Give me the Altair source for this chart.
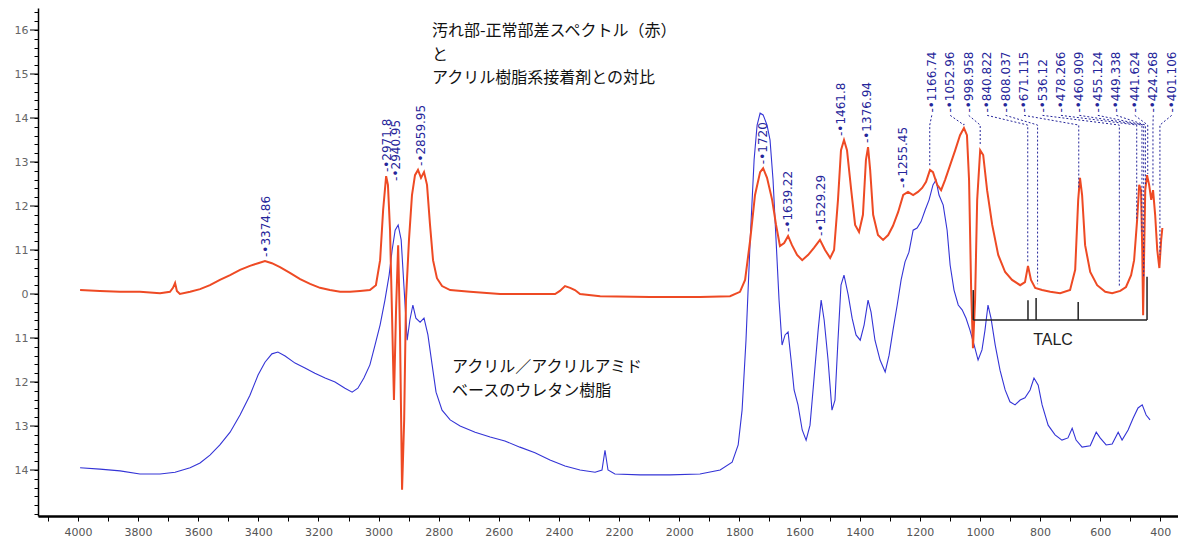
import altair as alt
import numpy as np
import pandas as pd

# ---------------- data ----------------
red_wn = [3993, 3927, 3860, 3794, 3727, 3694, 3684, 3677, 3671, 3661,
          3627, 3594, 3561, 3528, 3494, 3461, 3428, 3401, 3378, 3355,
          3328, 3295, 3261, 3228, 3195, 3162, 3128, 3095, 3062, 3029,
          3009, 2995, 2985, 2975, 2969, 2962, 2955, 2949, 2942, 2935,
          2929, 2922, 2915, 2909, 2899, 2889, 2879, 2869, 2859, 2849,
          2839, 2829, 2819, 2806, 2789, 2762, 2696, 2596, 2496, 2413,
          2397, 2380, 2363, 2347, 2330, 2263, 2097, 1931, 1831, 1798,
          1781, 1764, 1748, 1731, 1721, 1708, 1691, 1678, 1665, 1651,
          1638, 1625, 1608, 1591, 1571, 1552, 1532, 1515, 1498, 1485,
          1472, 1462, 1452, 1442, 1428, 1415, 1402, 1389, 1379, 1372,
          1365, 1355, 1339, 1322, 1305, 1289, 1272, 1255, 1239, 1222,
          1206, 1192, 1179, 1166, 1156, 1142, 1129, 1116, 1099, 1082,
          1066, 1053, 1043, 1036, 1029, 1023, 1016, 1009, 999, 989,
          976, 959, 939, 916, 893, 866, 850, 840, 830, 816,
          793, 766, 733, 700, 683, 673, 667, 660, 650, 633,
          610, 583, 560, 533, 514, 497, 487, 477, 470, 464,
          460, 457, 454, 450, 444, 437, 430, 424, 417, 410,
          403, 397, 393]
red_abs = [0.009, 0.007, 0.005, 0.005, 0.002, 0.005, 0.014, 0.025, 0.007, 0.000,
           0.005, 0.011, 0.020, 0.032, 0.043, 0.055, 0.064, 0.070, 0.075, 0.070,
           0.061, 0.048, 0.034, 0.023, 0.014, 0.009, 0.005, 0.005, 0.007, 0.009,
           0.020, 0.077, 0.191, 0.268, 0.248, 0.145, -0.059, -0.241, -0.036, 0.111,
           -0.082, -0.445, -0.286, -0.014, 0.123, 0.225, 0.270, 0.282, 0.264, 0.277,
           0.248, 0.157, 0.077, 0.036, 0.018, 0.009, 0.005, 0.000, 0.000, 0.000,
           0.007, 0.018, 0.014, 0.009, 0.000, -0.005, -0.007, -0.007, -0.005, 0.005,
           0.032, 0.123, 0.225, 0.277, 0.286, 0.264, 0.214, 0.157, 0.109, 0.116,
           0.132, 0.111, 0.089, 0.077, 0.089, 0.105, 0.123, 0.100, 0.082, 0.100,
           0.214, 0.327, 0.350, 0.327, 0.236, 0.157, 0.141, 0.180, 0.305, 0.334,
           0.282, 0.180, 0.134, 0.123, 0.134, 0.155, 0.186, 0.225, 0.232, 0.225,
           0.232, 0.241, 0.255, 0.282, 0.277, 0.248, 0.236, 0.259, 0.293, 0.327,
           0.361, 0.377, 0.361, 0.259, 0.009, -0.123, -0.014, 0.214, 0.327, 0.316,
           0.236, 0.157, 0.089, 0.050, 0.032, 0.020, 0.027, 0.064, 0.032, 0.014,
           0.009, 0.005, 0.002, 0.009, 0.055, 0.214, 0.264, 0.225, 0.111, 0.050,
           0.020, 0.005, 0.002, 0.007, 0.016, 0.043, 0.077, 0.168, 0.248, 0.236,
           0.100, -0.048, 0.077, 0.236, 0.270, 0.248, 0.214, 0.236, 0.180, 0.100,
           0.059, 0.123, 0.150]

blue_wn = [3993, 3927, 3860, 3794, 3727, 3677, 3627, 3594, 3561, 3528,
           3494, 3461, 3428, 3401, 3378, 3355, 3335, 3311, 3278, 3245,
           3212, 3178, 3145, 3112, 3088, 3069, 3049, 3029, 3012, 2995,
           2979, 2965, 2955, 2945, 2935, 2925, 2915, 2905, 2896, 2886,
           2876, 2862, 2849, 2836, 2822, 2809, 2789, 2762, 2729, 2679,
           2629, 2580, 2530, 2480, 2430, 2380, 2330, 2280, 2257, 2247,
           2237, 2214, 2130, 2031, 1931, 1864, 1824, 1804, 1791, 1778,
           1764, 1751, 1741, 1731, 1721, 1708, 1698, 1688, 1678, 1668,
           1658, 1648, 1638, 1628, 1618, 1605, 1591, 1578, 1565, 1552,
           1538, 1528, 1518, 1505, 1492, 1482, 1472, 1462, 1452, 1438,
           1425, 1412, 1398, 1385, 1372, 1362, 1349, 1332, 1315, 1302,
           1289, 1275, 1262, 1249, 1236, 1222, 1209, 1196, 1182, 1169,
           1156, 1146, 1136, 1122, 1109, 1099, 1086, 1072, 1059, 1046,
           1033, 1019, 1006, 993, 983, 973, 963, 949, 933, 916,
           900, 883, 866, 850, 833, 820, 806, 793, 773, 750,
           727, 707, 693, 680, 660, 633, 613, 600, 580, 560,
           540, 527, 507, 490, 474, 460, 447, 434]
blue_abs = [-0.395, -0.398, -0.402, -0.409, -0.409, -0.405, -0.395, -0.384, -0.366, -0.343,
            -0.314, -0.275, -0.230, -0.184, -0.155, -0.136, -0.132, -0.141, -0.157, -0.168,
            -0.180, -0.191, -0.200, -0.214, -0.223, -0.214, -0.191, -0.161, -0.116, -0.070,
            -0.014, 0.043, 0.100, 0.145, 0.157, 0.123, 0.009, -0.105, -0.059, -0.025,
            -0.055, -0.064, -0.055, -0.093, -0.161, -0.223, -0.264, -0.286, -0.300, -0.314,
            -0.325, -0.334, -0.348, -0.361, -0.377, -0.391, -0.400, -0.405, -0.400, -0.355,
            -0.400, -0.409, -0.411, -0.411, -0.409, -0.400, -0.382, -0.343, -0.264, -0.105,
            0.123, 0.305, 0.384, 0.411, 0.407, 0.384, 0.350, 0.259, 0.123, -0.014,
            -0.116, -0.093, -0.086, -0.150, -0.218, -0.252, -0.309, -0.332, -0.298, -0.195,
            -0.082, -0.014, -0.059, -0.150, -0.264, -0.241, -0.105, 0.020, 0.043, -0.002,
            -0.055, -0.093, -0.105, -0.070, -0.014, -0.041, -0.105, -0.150, -0.177, -0.139,
            -0.082, -0.025, 0.032, 0.073, 0.095, 0.145, 0.150, 0.164, 0.191, 0.214,
            0.248, 0.259, 0.225, 0.202, 0.145, 0.066, 0.009, -0.025, -0.036, -0.055,
            -0.082, -0.116, -0.150, -0.127, -0.082, -0.025, -0.055, -0.116, -0.173, -0.218,
            -0.245, -0.252, -0.241, -0.236, -0.218, -0.191, -0.207, -0.252, -0.298, -0.320,
            -0.332, -0.327, -0.305, -0.332, -0.348, -0.345, -0.314, -0.327, -0.343, -0.341,
            -0.314, -0.332, -0.309, -0.282, -0.259, -0.252, -0.275, -0.286]

left_peaks = [3374.86, 2971.8, 2940.95, 2859.95, 1720, 1639.22, 1529.29, 1461.8, 1376.94, 1255.45]
left_texts = ["3374.86", "2971.8", "2940.95", "2859.95", "1720", "1639.22",
              "1529.29", "1461.8", "1376.94", "1255.45"]
right_peaks = [1166.74, 1052.96, 998.958, 840.822, 808.037, 671.115, 536.12,
               478.266, 460.909, 455.124, 449.338, 441.624, 424.268, 401.106]
right_texts = ["1166.74", "1052.96", "998.958", "840.822", "808.037", "671.115", "536.12",
               "478.266", "460.909", "455.124", "449.338", "441.624", "424.268", "401.106"]

talc_wn = [1022, 840, 813, 673, 444]
talc_top = [0.009, -0.014, -0.009, -0.018, 0.039]

x_ticks = list(range(400, 4101, 100))
y_ticks = [round(-0.5 + 0.02 * i, 2) for i in range(58)]
y_major = [round(-0.4 + 0.1 * i, 1) for i in range(11)]

# ---------------- styling / layout ----------------
RED = "#ee4a24"
BLUE = "#3434d6"
NAVY = "#25259a"
X_DOMAIN = [4133, 341]
Y_DOMAIN = [-0.5045, 0.65]
LABEL_BASE = 0.41
ELBOW = 0.384
TALC_BASE = -0.059

xs = alt.Scale(domain=X_DOMAIN, nice=False, zero=False)
ys = alt.Scale(domain=Y_DOMAIN, nice=False, zero=False)

x_axis = alt.Axis(values=x_ticks, title=None, grid=False,
                  labelExpr="(datum.value % 200 == 0 && datum.value <= 4000) ? format(datum.value, 'd') : ''",
                  domainColor="black", domainWidth=2.5, tickColor="black", tickSize=5,
                  labelColor="#555555", labelFont="DejaVu Sans", labelFontSize=11,
                  labelPadding=5, labelOverlap=False, labelFlush=False)
y_axis = alt.Axis(values=y_ticks, title=None, grid=False,
                  labelExpr="(abs(round(datum.value*50)) % 5 == 0 && datum.value > -0.45) ? (round(datum.value*10) == 0 ? '0' : '1' + abs(round(datum.value*10))) : ''",
                  domainColor="black", domainWidth=1.5, tickColor="black", tickSize=4,
                  labelColor="#666666", labelFont="DejaVu Sans", labelFontSize=11,
                  labelPadding=6, labelOverlap=False, labelFlush=False)


def X(field="w"):
    return alt.X(f"{field}:Q", scale=xs, axis=x_axis)


def Y(field="v"):
    return alt.Y(f"{field}:Q", scale=ys, axis=y_axis)


red_df = pd.DataFrame({"w": red_wn, "v": red_abs, "i": range(len(red_wn))})
blue_df = pd.DataFrame({"w": blue_wn, "v": blue_abs, "i": range(len(blue_wn))})

rw = np.array(red_wn, dtype=float)
ra = np.array(red_abs, dtype=float)


def local_max(p, half=30):
    m = (rw >= p - half) & (rw <= p + half)
    return float(ra[m].max())


def red_at(p):
    return float(np.interp(p, rw[::-1], ra[::-1]))


left_df = pd.DataFrame({"w": left_peaks, "v": [local_max(p) for p in left_peaks],
                        "t": ["-•" + t for t in left_texts]})
label_w = np.linspace(1160, 362, len(right_peaks))
right_df = pd.DataFrame({"w": label_w, "v": [LABEL_BASE] * len(right_peaks),
                         "t": ["-•" + t for t in right_texts]})
lead_rows = []
for k, (lw, p) in enumerate(zip(label_w, right_peaks)):
    lead_rows.append({"k": k, "o": 0, "w": lw, "v": LABEL_BASE - 0.004})
    lead_rows.append({"k": k, "o": 1, "w": p, "v": ELBOW})
    lead_rows.append({"k": k, "o": 2, "w": p, "v": red_at(p) + 0.01})
lead_df = pd.DataFrame(lead_rows)

talc_df = pd.DataFrame({"w": talc_wn, "v": [TALC_BASE] * len(talc_wn), "v2": talc_top})
talc_h = pd.DataFrame({"w": [talc_wn[0]], "w2": [talc_wn[-1]], "v": [TALC_BASE]})

blue_line = alt.Chart(blue_df).mark_line(color=BLUE, strokeWidth=1.1).encode(
    x=X(), y=Y(), order="i:Q")
red_line = alt.Chart(red_df).mark_line(color=RED, strokeWidth=2).encode(
    x=X(), y=Y(), order="i:Q")

major_ticks = alt.Chart(pd.DataFrame({"v": y_major})).mark_rule(color="black", strokeWidth=1).encode(
    y=Y(), x=alt.value(-8), x2=alt.value(0))

leaders = alt.Chart(lead_df).mark_line(color=NAVY, strokeWidth=1, strokeDash=[2, 2]).encode(
    x=X(), y=Y(), detail="k:N", order="o:Q")

lbl_style = dict(angle=270, align="left", baseline="middle", color=NAVY,
                 font="DejaVu Sans", fontSize=12)
left_lbl = alt.Chart(left_df).mark_text(dx=4, **lbl_style).encode(x=X(), y=Y(), text="t:N")
right_lbl = alt.Chart(right_df).mark_text(dx=1, **lbl_style).encode(x=X(), y=Y(), text="t:N")

talc_v = alt.Chart(talc_df).mark_rule(color="#222222", strokeWidth=1.5).encode(
    x=X(), y=Y(), y2="v2:Q")
talc_line = alt.Chart(talc_h).mark_rule(color="#222222", strokeWidth=1.5).encode(
    x=X(), x2="w2:Q", y=Y())
talc_txt = alt.Chart(pd.DataFrame({"t": ["TALC"]})).mark_text(
    font="Liberation Sans", fontSize=16, color="#222222", align="center", baseline="middle").encode(
    text="t:N", x=alt.value(1015), y=alt.value(332))

title_txt = alt.Chart(pd.DataFrame({"t": ["汚れ部-正常部差スペクトル（赤）\nと\nアクリル樹脂系接着剤との対比"]})).mark_text(
    font="Noto Sans CJK JP", fontSize=16, color="#111111", align="left", baseline="top",
    lineBreak="\n", lineHeight=23.5).encode(text="t:N", x=alt.value(394), y=alt.value(15))
blue_txt = alt.Chart(pd.DataFrame({"t": ["アクリル／アクリルアミド\nベースのウレタン樹脂"]})).mark_text(
    font="Noto Sans CJK JP", fontSize=16, color="#111111", align="left", baseline="top",
    lineBreak="\n", lineHeight=23.5).encode(text="t:N", x=alt.value(414), y=alt.value(351))

chart = alt.layer(
    blue_line, red_line, major_ticks, leaders, left_lbl, right_lbl,
    talc_v, talc_line, talc_txt, title_txt, blue_txt
).properties(
    width=1140, height=508,
    padding={"left": 30, "top": 0, "right": 0, "bottom": 22},
    autosize=alt.AutoSizeParams(type="none"),
    background="white",
).configure_view(stroke=None)

chart.save("out.html", embed_options={"renderer": "svg", "actions": False})
